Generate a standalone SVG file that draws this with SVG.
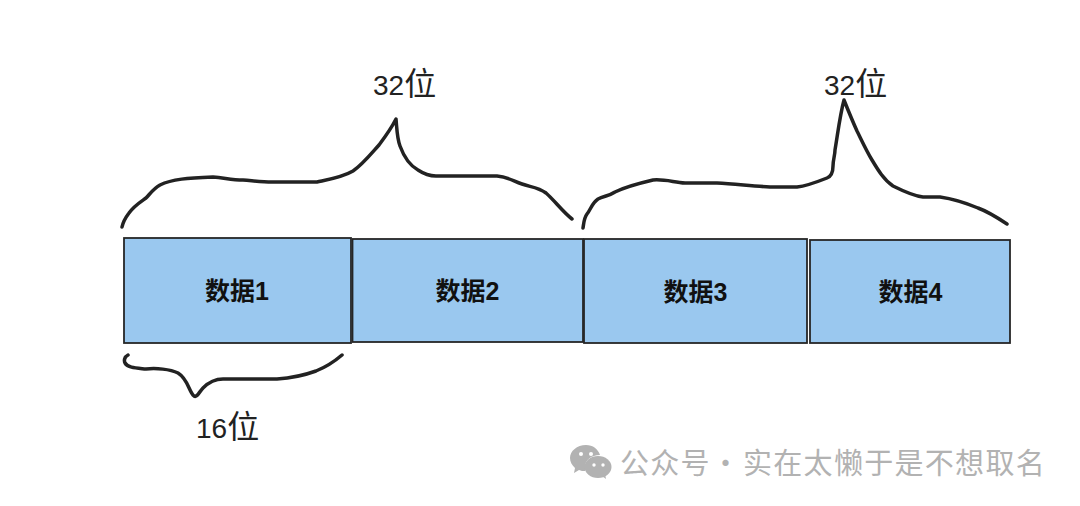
<svg xmlns="http://www.w3.org/2000/svg" width="1080" height="506" viewBox="0 0 1080 506">
<style>
.box{fill:#9AC8EF;stroke:#262626;stroke-width:1.8}
.lab{font-family:"Liberation Sans","Noto Sans CJK SC",sans-serif;font-size:25px;font-weight:700;fill:#111;text-anchor:middle}
.size{font-family:"Liberation Sans","Noto Sans CJK SC",sans-serif;font-size:28px;fill:#222}
.size .c{font-size:32px}
.brace{fill:none;stroke:#222;stroke-width:3.5;stroke-linecap:round;stroke-linejoin:round}
.wm{font-family:"Noto Sans CJK SC",sans-serif;font-size:29px;fill:#b2b2b2;letter-spacing:1.3px}
</style>
<rect width="1080" height="506" fill="#fff"/>
<g id="connectors">
<path class="brace" d="M122 227C123 222 126 217 129 213C134 206 139 203 146 198C150 194 153 189 160 185C172 179 188 178 213 177C225 178 232 180 243 180C255 181 262 182 272 182L317 182C331 179 343 177 353 171C362 165 370 155 379 145C385 137 391 129 396 119C397 130 397 138 400 146C404 157 409 165 418 170C424 174 429 176 436 176L497 176C508 177 513 181 522 184C530 187 538 187 546 193C554 200 563 212 572 219"/>
<path class="brace" d="M583 228C584 222 584 218 587 214C591 209 592 203 598 199C604 196 609 196 615 192C625 187 636 184 653 180C664 179 673 182 685 183L717 183C735 184 752 186 770 187L797 187C807 186 817 182 827 178C832 176 833 172 833 166C833 160 835 155 835 150C838 132 840 115 844 100C848 110 852 120 857 131C862 141 866 150 872 160C878 170 884 180 893 186C903 191 913 196 923 197L940 197C954 199 966 203 978 208C989 212 998 218 1007 224"/>
<path class="brace" d="M128 355C124 357 124 361 125 363C128 368 136 368 146 369C156 368 170 369 178 373C188 379 189 392 194 396C197 398 199 392 203 388C208 383 214 379 223 379L277 379C292 378 305 375 316 371C326 367 335 361 342 355"/>
</g>
<g id="node-1"><rect class="box" x="124" y="238" width="227" height="105"/><text class="lab" x="237" y="300">数据1</text></g>
<g id="node-2"><rect class="box" x="352.500" y="239" width="230.500" height="103"/><text class="lab" x="467.500" y="300">数据2</text></g>
<g id="node-3"><rect class="box" x="584" y="239" width="223" height="104"/><text class="lab" x="695.500" y="301">数据3</text></g>
<g id="node-4"><rect class="box" x="810" y="240" width="200" height="103"/><text class="lab" x="910.500" y="301">数据4</text></g>
<g id="label-32a"><text class="size" x="373" y="95">32<tspan class="c">位</tspan></text></g>
<g id="label-32b"><text class="size" x="824" y="95">32<tspan class="c">位</tspan></text></g>
<g id="label-16"><text class="size" x="196" y="438">16<tspan class="c">位</tspan></text></g>
<g id="watermark">
<path fill="#b2b2b2" d="M586 445C577 445 570 451 570 458C570 462 572 465 575 468L574 473L579 470C581 471 583 471 585 471C585 470 585 468 585 467C585 460 591 455 600 455C598 449 593 445 586 445Z"/>
<ellipse cx="598" cy="467" rx="13.500" ry="11" fill="#b2b2b2"/>
<path fill="#b2b2b2" d="M602 476L606 479L605 474Z"/>
<circle cx="581" cy="454" r="2" fill="#fff"/><circle cx="591" cy="454" r="2" fill="#fff"/>
<circle cx="594" cy="465" r="1.700" fill="#fff"/><circle cx="603" cy="465" r="1.700" fill="#fff"/>
<text class="wm" x="620" y="474">公众号</text>
<text class="wm" x="711" y="474">·</text>
<text class="wm" x="743" y="474">实在太懒于是不想取名</text>
</g>
</svg>
